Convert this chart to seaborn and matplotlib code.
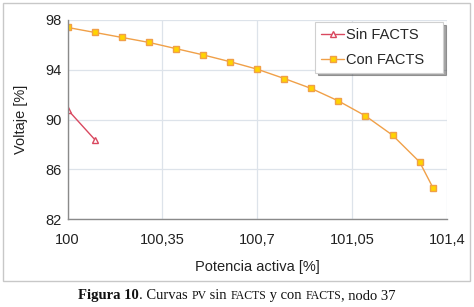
import matplotlib
matplotlib.use("Agg")
import matplotlib.pyplot as plt
from matplotlib.patches import Rectangle
import seaborn as sns
import pandas as pd

# Data
potencia_sin = [100.0, 100.1]
voltaje_sin = [90.8, 88.4]

potencia_con = [100.0, 100.1, 100.2, 100.3, 100.4, 100.5, 100.6, 100.7,
                100.8, 100.9, 101.0, 101.1, 101.2, 101.3, 101.35]
voltaje_con = [97.4, 97.0, 96.6, 96.2, 95.7, 95.2, 94.65, 94.05,
               93.3, 92.5, 91.5, 90.3, 88.75, 86.6, 84.5]

x_ticks = [100.0, 100.35, 100.7, 101.05, 101.4]
x_tick_labels = ["100", "100,35", "100,7", "101,05", "101,4"]
y_ticks = [82, 86, 90, 94, 98]

df_sin = pd.DataFrame({"potencia": potencia_sin, "voltaje": voltaje_sin})
df_con = pd.DataFrame({"potencia": potencia_con, "voltaje": voltaje_con})

sns.set_style("white")
plt.rcParams['font.family'] = ['Liberation Sans', 'DejaVu Sans']

fig = plt.figure(figsize=(4.74, 3.07), dpi=100)
ax = fig.add_axes([0.1428, 0.2857, 0.7996, 0.6492])

# Sin FACTS: red line with open triangles
sns.lineplot(data=df_sin, x="potencia", y="voltaje", ax=ax, color="#d9485f",
             linewidth=1.0, marker="^", markersize=5, markerfacecolor="white",
             markeredgecolor="#d9485f", markeredgewidth=1.0, label="Sin FACTS")

# Con FACTS: orange line with yellow squares
sns.lineplot(data=df_con, x="potencia", y="voltaje", ax=ax, color="#f0a048",
             linewidth=1.0, marker="s", markersize=4.8, markerfacecolor="#ffd400",
             markeredgecolor="#f0a048", markeredgewidth=1.0, label="Con FACTS")

ax.set_xlim(100.0, 101.4)
ax.set_ylim(82, 98)
ax.set_xticks(x_ticks)
ax.set_xticklabels(x_tick_labels)
ax.set_yticks(y_ticks)
ax.grid(True, color="#dde3ea", linewidth=0.9)
ax.set_axisbelow(True)

for side in ["top", "right"]:
    ax.spines[side].set_visible(False)
for side in ["left", "bottom"]:
    ax.spines[side].set_color("#8a8a8a")
    ax.spines[side].set_linewidth(1.0)

ax.tick_params(axis="both", which="both", direction="out", length=3, width=1,
               color="#8a8a8a", labelsize=10.5, labelcolor="#222222")
ax.tick_params(axis="x", pad=7)
ax.tick_params(axis="y", pad=1.5)

ax.set_xlabel("Potencia activa [%]", fontsize=10.5, color="#222222", labelpad=9)
ax.set_ylabel("Voltaje [%]", fontsize=10.5, color="#222222", labelpad=12)

leg = ax.legend(loc="upper left", mode="expand",
                bbox_to_anchor=(315 / 474, 1 - 72 / 307, 128 / 474, 50 / 307),
                bbox_transform=fig.transFigure, borderaxespad=0, fontsize=10.5,
                frameon=True, fancybox=False, shadow=True, handlelength=1.6,
                handletextpad=0.15, borderpad=0.4, labelspacing=0.75)
leg.get_frame().set_edgecolor("#d0d0d0")
leg.get_frame().set_linewidth(0.8)

# outer frame around the chart area
fig.patches.append(Rectangle((3 / 474, 1 - 281 / 307), 467 / 474, 278 / 307,
                             transform=fig.transFigure, fill=False,
                             edgecolor="#c8c8c8", linewidth=1.0))

# caption with bold prefix and small caps words
caption = [("Figura 10", "bold", 10.5), (". Curvas ", "normal", 10.5),
           ("PV", "normal", 8.5), (" sin ", "normal", 10.5),
           ("FACTS", "normal", 8.5), (" y con ", "normal", 10.5),
           ("FACTS", "normal", 8.5), (", nodo 37", "normal", 10.5)]
renderer = fig.canvas.get_renderer()
pieces = []
x = 0.0
for txt, weight, size in caption:
    t = fig.text(x, 1 - 299 / 307, txt, fontsize=size, fontweight=weight,
                 family=["Liberation Serif", "DejaVu Serif"], color="#111111",
                 va="baseline", ha="left")
    w = t.get_window_extent(renderer=renderer).width / fig.bbox.width
    pieces.append((t, x))
    x += w
start = 0.5 - x / 2
for t, off in pieces:
    t.set_x(start + off)

fig.savefig("out.png", dpi=100)
